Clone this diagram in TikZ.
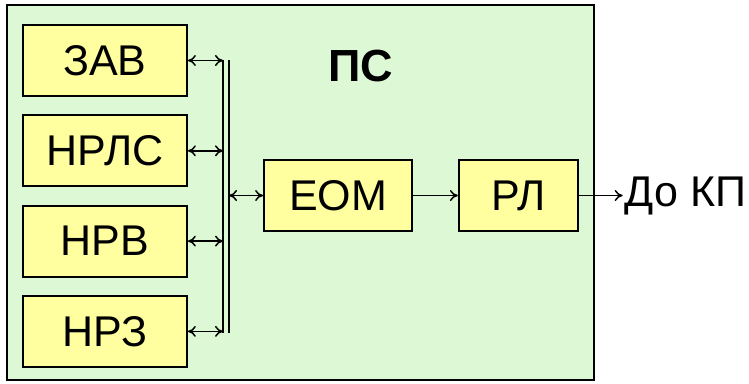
\documentclass[tikz,border=0pt]{standalone}
\usepackage{fontspec}
\setmainfont{Liberation Sans}
\usetikzlibrary{arrows.meta,positioning}
\definecolor{psgreen}{RGB}{221,248,213}
\definecolor{boxyellow}{RGB}{255,255,160}

\begin{document}
\begin{tikzpicture}[
    x=1pt, y=-1pt,
    node distance=17.5pt,
    box/.style={draw, line width=1.8pt, fill=boxyellow, minimum width=164pt, minimum height=71pt, inner sep=0pt, font=\fontsize{43}{48}\selectfont},
    dlink/.style={line width=1.5pt, {To[length=8pt,width=11pt]}-{To[length=8pt,width=11pt]}},
    link/.style={line width=1.5pt, -{To[length=8pt,width=11pt]}},
    bus/.style={line width=2pt}
  ]
    \useasboundingbox (0,0) rectangle (749,383);
    \draw[line width=2pt, fill=psgreen] (7,5) rectangle (594,380);
    \node[font=\fontsize{45}{50}\selectfont\bfseries] (ps) at (361,66) {ПС};
    \node[box] (zav) at (105,60.5) {ЗАВ};
    \node[box, below=of zav] (nrls) {НРЛС};
    \node[box, below=of nrls] (nrv) {НРВ};
    \node[box, below=of nrv] (nrz) {НРЗ};
    \node[box, minimum width=148pt] (eom) at (338,195.5) {ЕОМ};
    \node[box, minimum width=119pt, right=45pt of eom] (rl) {РЛ};
    \node[right=44pt of rl, inner sep=2pt, font=\fontsize{43}{48}\selectfont] (kp) {До КП};
    % shina
    \coordinate (bus1top) at (223,60);
    \coordinate (bus1bot) at (223,333);
    \coordinate (bus2top) at (229,60);
    \coordinate (bus2bot) at (229,333);
    \draw[bus] (bus1top) -- (bus1bot);
    \draw[bus] (bus2top) -- (bus2bot);
    \draw[dlink] (zav.east) -- (zav.east -| bus1top);
    \draw[dlink] (nrls.east) -- (nrls.east -| bus1top);
    \draw[dlink] (nrv.east) -- (nrv.east -| bus1top);
    \draw[dlink] (nrz.east) -- (nrz.east -| bus1top);
    \draw[dlink] (eom.west -| bus2top) -- (eom.west);
    \draw[link] (eom) -- (rl);
    \draw[link] (rl) -- (kp);
  \end{tikzpicture}
\end{document}
